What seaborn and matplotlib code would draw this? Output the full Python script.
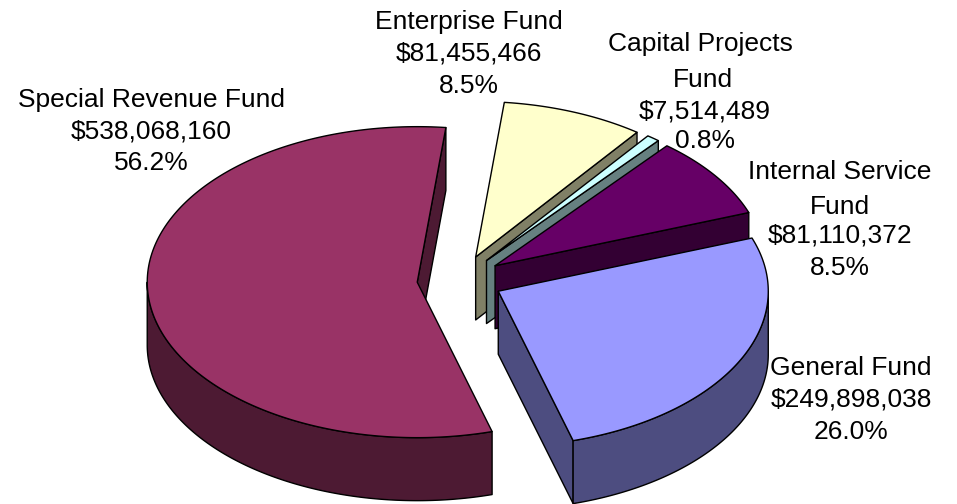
import numpy as np
import matplotlib
matplotlib.use("Agg")
import matplotlib.pyplot as plt
import seaborn as sns

funds = ["General Fund", "Special Revenue Fund", "Enterprise Fund", "Capital Projects Fund", "Internal Service Fund"]
amounts = [249898038, 538068160, 81455466, 7514489, 81110372]
labels = [["General Fund", "$249,898,038", "26.0%"],
          ["Special Revenue Fund", "$538,068,160", "56.2%"],
          ["Enterprise Fund", "$81,455,466", "8.5%"],
          ["Capital Projects", "Fund", "$7,514,489", "0.8%"],
          ["Internal Service", "Fund", "$81,110,372", "8.5%"]]
tops = ["#9999FF", "#993366", "#FFFFCC", "#CCFFFF", "#660066"]
sides = ["#4D4D80", "#4D1A33", "#808066", "#668080", "#330033"]

sns.set_theme(style="white")
plt.rcParams["font.family"] = ["Liberation Sans", "DejaVu Sans"]

# pie geometry in pixels of the picture
CX, CY = 460, 280
RX, RY = 270, 155.5
DEPTH = 63
EXPLODE = 0.159
START = 20.0

fig = plt.figure(figsize=(9.57, 5.04), dpi=100)
ax = fig.add_axes([0, 0, 1, 1])
ax.set_xlim(0, 957)
ax.set_ylim(504, 0)
ax.axis("off")


def rim(x0, y0, a, b):
    t = np.radians(np.linspace(a, b, 200))
    return x0 + RX * np.cos(t), y0 - RY * np.sin(t)


def wedge(i, s, e):
    mid = np.radians((s + e) / 2)
    x0 = CX + EXPLODE * RX * np.cos(mid)
    y0 = CY - EXPLODE * RY * np.sin(mid)
    edge = dict(edgecolor="black", linewidth=1.0, joinstyle="round")
    # cut faces, only the ones turned to the viewer
    for ang, show in ((s, np.cos(np.radians(s)) < 0), (e, np.cos(np.radians(e)) > 0)):
        if show:
            xa, ya = rim(x0, y0, ang, ang)
            ax.fill([x0, xa[0], xa[0], x0], [y0, ya[0], ya[0] + DEPTH, y0 + DEPTH],
                    facecolor=sides[i], **edge)
    # outer wall, front half only
    for k in (-360, 0):
        lo, hi = max(e, k - 180), min(s, k)
        if lo < hi:
            xs, ys = rim(x0, y0, lo, hi)
            ax.fill(np.r_[xs, xs[::-1]], np.r_[ys, ys[::-1] + DEPTH],
                    facecolor=sides[i], **edge)
    xs, ys = rim(x0, y0, s, e)
    ax.fill(np.r_[x0, xs], np.r_[y0, ys], facecolor=tops[i], **edge)


shares = np.array(amounts) / sum(amounts) * 360
ends = START - np.cumsum(shares)
starts = ends + shares
for i in [2, 3, 4, 1, 0]:
    wedge(i, starts[i], ends[i])

label_x = [[851, 851, 851], [151, 151, 151], [469, 469, 469], [700, 703, 705, 705], [840, 840, 840, 840]]
label_y = [[368, 400, 432], [100, 132, 163], [22, 54, 86], [44, 80, 111, 141], [172, 207, 235, 268]]
for lines, xs, ys in zip(labels, label_x, label_y):
    for line, x, y in zip(lines, xs, ys):
        ax.text(x, y, line, ha="center", va="center", fontsize=19, color="black")

fig.savefig("out.png", dpi=100)
